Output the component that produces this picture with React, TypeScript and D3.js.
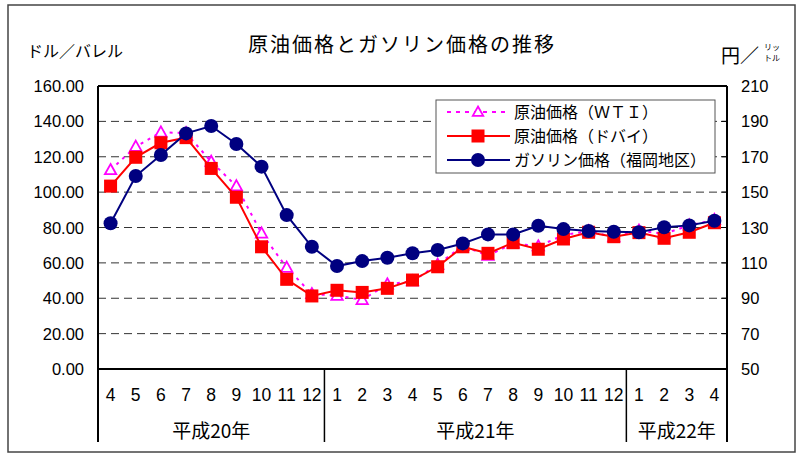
import React from "react";
import * as d3 from "d3";

const months = ["4","5","6","7","8","9","10","11","12","1","2","3","4","5","6","7","8","9","10","11","12","1","2","3","4"];
const years = [
  { label: "平成20年", count: 9 },
  { label: "平成21年", count: 12 },
  { label: "平成22年", count: 4 },
];
const wti = [112.5, 125.7, 133.8, 133.4, 117.2, 103.4, 76.7, 57.3, 42.4, 41.5, 39.1, 47.9, 49.6, 59.0, 69.6, 64.1, 71.0, 69.4, 75.7, 78.0, 74.5, 78.3, 76.4, 81.2, 84.3];
const dubai = [103.4, 119.7, 127.9, 130.8, 113.4, 97.1, 69.1, 50.7, 41.3, 44.5, 43.3, 45.6, 50.3, 57.8, 69.1, 65.4, 71.4, 67.7, 73.5, 77.3, 74.8, 77.1, 73.9, 77.3, 82.7];
const gasoline = [132.4, 159.1, 171.0, 183.2, 187.4, 177.2, 164.4, 137.0, 119.1, 108.2, 111.0, 112.9, 115.4, 117.3, 121.0, 126.1, 126.1, 131.0, 129.1, 128.0, 127.6, 127.3, 130.1, 131.2, 133.8];
const leftTicks = [0, 20, 40, 60, 80, 100, 120, 140, 160];
const rightTicks = [50, 70, 90, 110, 130, 150, 170, 190, 210];
const legendLabels = ["原油価格（ＷＴＩ）", "原油価格（ドバイ）", "ガソリン価格（福岡地区）"];

const W = 801, H = 455;
const L = 98, R = 727, T = 86, B = 369;
const FONT = "'Liberation Sans', Arial, sans-serif";
const JFONT = "'Noto Sans CJK JP', sans-serif";

export default function App() {
  const idx = months.map((_, i) => i);
  const x = d3.scaleBand<number>().domain(idx).range([L, R]).padding(0);
  const yL = d3.scaleLinear().domain([0, 160]).range([B, T]);
  const yR = d3.scaleLinear().domain([50, 210]).range([B, T]);
  const cx = (i: number) => (x(i) as number) + x.bandwidth() / 2;

  const lineL = d3.line<number>().x((_, i) => cx(i)).y((d) => yL(d));
  const lineR = d3.line<number>().x((_, i) => cx(i)).y((d) => yR(d));

  const tri = (px: number, py: number, s = 6) =>
    `M${px},${py - s} L${px + s * 0.95},${py + s * 0.7} L${px - s * 0.95},${py + s * 0.7} Z`;

  let acc = 0;
  const yearBounds = years.map((y) => {
    const start = acc;
    acc += y.count;
    return { ...y, start, end: acc };
  });

  const legX = 436, legY = 100, legW = 279, legH = 73;
  const rowY = [112, 136, 160];

  return (
    <svg width={W} height={H} style={{ display: "block", position: "absolute", left: 0, top: 0, background: "#fff" }}>
      <rect x={0} y={0} width={W} height={H} fill="#fff" />
      <rect x={8} y={5} width={787} height={447} fill="none" stroke="#444" strokeWidth={1.5} />

      {/* title */}
      <text x={402} y={52} textAnchor="middle" fontFamily={JFONT} fontSize={20} letterSpacing={2} fill="#000">
        原油価格とガソリン価格の推移
      </text>
      <text x={27} y={57} fontFamily={JFONT} fontSize={16} fill="#000">ドル／バレル</text>
      <text x={721} y={63} fontFamily={JFONT} fontSize={19} fill="#000">円／</text>
      <text x={764} y={50} fontFamily={JFONT} fontSize={8} fill="#000">リッ</text>
      <text x={764} y={61} fontFamily={JFONT} fontSize={8} fill="#000">トル</text>

      {/* gridlines */}
      {leftTicks.filter((t) => t > 0 && t < 160).map((t) => (
        <line key={t} x1={L} x2={R} y1={yL(t)} y2={yL(t)} stroke="#333" strokeWidth={1} strokeDasharray="8,5" />
      ))}

      {/* left tick labels */}
      {leftTicks.map((t) => (
        <text key={t} x={84} y={yL(t) + 6} textAnchor="end" fontFamily={FONT} fontSize={16.5} fill="#000">
          {t.toFixed(2)}
        </text>
      ))}
      {/* right ticks */}
      {rightTicks.map((t) => (
        <g key={t}>
          <line x1={R - 6} x2={R} y1={yR(t)} y2={yR(t)} stroke="#000" strokeWidth={1} />
          <text x={741} y={yR(t) + 6} fontFamily={FONT} fontSize={16.5} fill="#000">{t}</text>
        </g>
      ))}

      {/* frame */}
      <line x1={L} x2={R} y1={T} y2={T} stroke="#000" strokeWidth={2} />
      <line x1={R} x2={R} y1={T} y2={442} stroke="#000" strokeWidth={2} />
      <line x1={L} x2={L} y1={T} y2={442} stroke="#000" strokeWidth={2} />
      <line x1={L} x2={R} y1={B} y2={B} stroke="#000" strokeWidth={2} />

      {/* x labels */}
      {months.map((m, i) => (
        <text key={i} x={cx(i)} y={401} textAnchor="middle" fontFamily={FONT} fontSize={17.5} fill="#000">{m}</text>
      ))}
      {yearBounds.map((yb, i) => {
        const x0 = x(yb.start) as number;
        const x1 = yb.end >= months.length ? R : (x(yb.end) as number);
        return (
          <g key={i}>
            {i > 0 && <line x1={x0} x2={x0} y1={B} y2={442} stroke="#000" strokeWidth={1.5} />}
            <text x={(x0 + x1) / 2} y={438} textAnchor="middle" fontFamily={JFONT} fontSize={19} fill="#000">{yb.label}</text>
          </g>
        );
      })}

      {/* series */}
      <path d={lineL(wti) || ""} fill="none" stroke="#FF00FF" strokeWidth={2} strokeDasharray="3,5" />
      {wti.map((v, i) => (
        <path key={i} d={tri(cx(i), yL(v))} fill="#fff" stroke="#FF00FF" strokeWidth={1.8} />
      ))}
      <path d={lineL(dubai) || ""} fill="none" stroke="#FF0000" strokeWidth={2} />
      {dubai.map((v, i) => (
        <rect key={i} x={cx(i) - 6.5} y={yL(v) - 6.5} width={13} height={13} fill="#FF0000" />
      ))}
      <path d={lineR(gasoline) || ""} fill="none" stroke="#000080" strokeWidth={2} />
      {gasoline.map((v, i) => (
        <circle key={i} cx={cx(i)} cy={yR(v)} r={7} fill="#000080" />
      ))}

      {/* legend */}
      <rect x={legX} y={legY} width={legW} height={legH} fill="#fff" stroke="#555" strokeWidth={1} />
      <line x1={447} x2={510} y1={rowY[0]} y2={rowY[0]} stroke="#FF00FF" strokeWidth={2} strokeDasharray="4,5" />
      <path d={tri(478, rowY[0], 5.5)} fill="#fff" stroke="#FF00FF" strokeWidth={1.8} />
      <line x1={447} x2={510} y1={rowY[1]} y2={rowY[1]} stroke="#FF0000" strokeWidth={2} />
      <rect x={478 - 6.5} y={rowY[1] - 6.5} width={13} height={13} fill="#FF0000" />
      <line x1={447} x2={510} y1={rowY[2]} y2={rowY[2]} stroke="#000080" strokeWidth={2} />
      <circle cx={478} cy={rowY[2]} r={7} fill="#000080" />
      {legendLabels.map((l, i) => (
        <text key={i} x={514} y={rowY[i] + 6} fontFamily={JFONT} fontSize={16} fill="#000">{l}</text>
      ))}
    </svg>
  );
}
